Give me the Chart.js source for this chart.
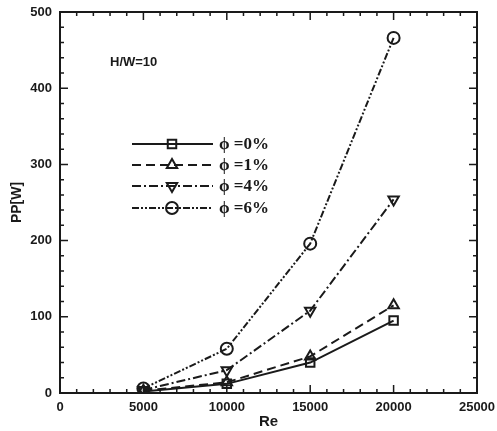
<!DOCTYPE html>
<html>
<head>
<meta charset="utf-8">
<script src="https://cdn.jsdelivr.net/npm/chart.js@4"></script>
<style>
  html, body { margin: 0; padding: 0; background: #fff; }
  #wrap { width: 497px; height: 431px; }
</style>
</head>
<body>
<div id="wrap"><canvas id="ppChart"></canvas></div>
<script>
const reValues = [5000, 10000, 15000, 20000];

const pp0 = [2, 12, 40, 95];
const pp1 = [3, 14, 48, 115];
const pp4 = [4, 30, 108, 254];
const pp6 = [6, 58, 196, 466];

const seriesLabels = ["ϕ =0%", "ϕ =1%", "ϕ =4%", "ϕ =6%"];
const seriesValues = [pp0, pp1, pp4, pp6];
const seriesDash = [[], [9, 5], [9, 3, 2, 3], [7, 2, 2, 2, 2, 2]];
const seriesMarker = ["rect", "triangle", "triangle", "circle"];
const seriesRotation = [0, 0, 180, 0];

const ink = "#1a1a1a";
const tickFont = { family: "'Liberation Sans', Arial, sans-serif", size: 13, weight: "bold" };

const datasets = seriesValues.map((vals, i) => ({
    label: seriesLabels[i],
    data: vals.map((v, k) => ({ x: reValues[k], y: v })),
    borderColor: ink,
    borderWidth: 2,
    borderDash: seriesDash[i],
    pointStyle: seriesMarker[i],
    pointRotation: seriesRotation[i],
    pointRadius: 6,
    pointBorderWidth: 2,
    pointBorderColor: ink,
    pointBackgroundColor: "rgba(255,255,255,0)",
    fill: false,
    tension: 0
}));

// frame with inward ticks on all four sides, plus the in-plot legend and note
const framePlugin = {
    id: "frame",
    afterDraw(chart) {
        const { ctx, chartArea: a, scales } = chart;
        const xs = scales.x, ys = scales.y;
        ctx.save();
        ctx.strokeStyle = ink;
        ctx.lineWidth = 2;
        ctx.strokeRect(a.left, a.top, a.right - a.left, a.bottom - a.top);

        ctx.lineWidth = 1.5;
        for (let v = 0; v <= 25000; v += 1000) {
            const px = xs.getPixelForValue(v);
            const len = v % 5000 === 0 ? 8 : 4;
            ctx.beginPath();
            ctx.moveTo(px, a.bottom); ctx.lineTo(px, a.bottom - len);
            ctx.moveTo(px, a.top); ctx.lineTo(px, a.top + len);
            ctx.stroke();
        }
        for (let v = 0; v <= 500; v += 20) {
            const py = ys.getPixelForValue(v);
            const len = v % 100 === 0 ? 8 : 4;
            ctx.beginPath();
            ctx.moveTo(a.left, py); ctx.lineTo(a.left + len, py);
            ctx.moveTo(a.right, py); ctx.lineTo(a.right - len, py);
            ctx.stroke();
        }

        ctx.fillStyle = ink;
        ctx.font = "bold 13px 'Liberation Sans', Arial, sans-serif";
        ctx.textBaseline = "middle";
        ctx.fillText("H/W=10", 110, 62);

        // legend
        const rows = [144, 165, 186, 208];
        chart.data.datasets.forEach((ds, i) => {
            const y = rows[i];
            ctx.setLineDash(ds.borderDash);
            ctx.lineWidth = 2;
            ctx.beginPath();
            ctx.moveTo(132, y); ctx.lineTo(213, y);
            ctx.stroke();
            ctx.setLineDash([]);
            ctx.fillStyle = "rgba(255,255,255,0)";
            Chart.helpers.drawPoint(ctx, {
                pointStyle: ds.pointStyle,
                rotation: ds.pointRotation,
                radius: 6,
                borderWidth: 2
            }, 172, y);
            ctx.fillStyle = ink;
            ctx.font = "bold 17px 'Liberation Serif', 'DejaVu Serif', serif";
            ctx.fillText(ds.label, 219, y + 1);
        });
        ctx.restore();
    }
};

new Chart(document.getElementById("ppChart"), {
    type: "line",
    data: { datasets },
    options: {
        responsive: true,
        maintainAspectRatio: false,
        animation: false,
        layout: { padding: { top: 12, right: 20, bottom: 0, left: 0 } },
        plugins: {
            legend: { display: false },
            tooltip: { enabled: false }
        },
        scales: {
            x: {
                type: "linear",
                min: 0,
                max: 25000,
                ticks: {
                    stepSize: 5000, color: ink, font: tickFont, padding: 7, maxRotation: 0,
                    callback: (v) => String(v)
                },
                grid: { display: false, drawTicks: false },
                border: { display: false },
                title: {
                    display: true,
                    text: "Re",
                    color: ink,
                    font: { family: "'Liberation Sans', Arial, sans-serif", size: 15, weight: "bold" },
                    padding: { top: 0, bottom: 0 }
                },
                afterFit(scale) {
                    scale.height = 38;
                    scale.paddingLeft = 0;
                    scale.paddingRight = 0;
                }
            },
            y: {
                type: "linear",
                min: 0,
                max: 500,
                ticks: { stepSize: 100, color: ink, font: tickFont, padding: 8 },
                grid: { display: false, drawTicks: false },
                border: { display: false },
                title: {
                    display: true,
                    text: "PP[W]",
                    color: ink,
                    font: { family: "'Liberation Sans', Arial, sans-serif", size: 14, weight: "bold" },
                    padding: { top: 9, bottom: 0 }
                },
                afterFit(scale) {
                    scale.width = 60;
                    scale.paddingTop = 0;
                    scale.paddingBottom = 0;
                }
            }
        }
    },
    plugins: [framePlugin]
});
</script>
</body>
</html>
